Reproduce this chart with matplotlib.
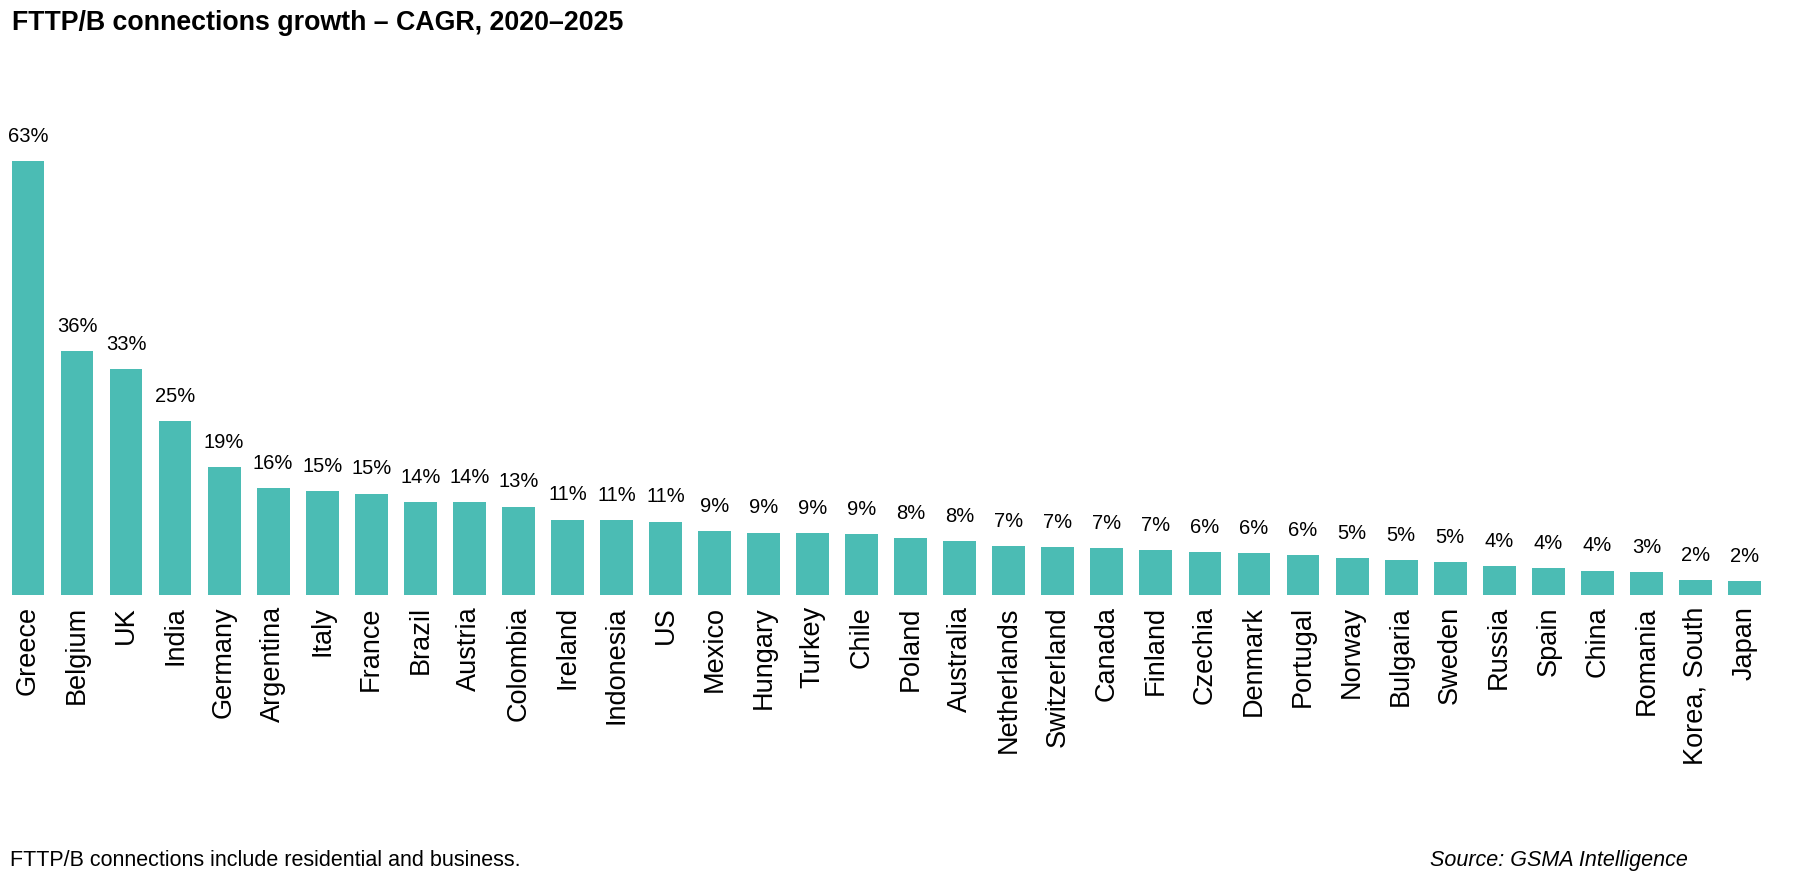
import numpy as np
import matplotlib.pyplot as plt

plt.rcParams['font.family'] = ['Liberation Sans', 'DejaVu Sans']

countries = ['Greece', 'Belgium', 'UK', 'India', 'Germany', 'Argentina', 'Italy',
             'France', 'Brazil', 'Austria', 'Colombia', 'Ireland', 'Indonesia', 'US',
             'Mexico', 'Hungary', 'Turkey', 'Chile', 'Poland', 'Australia',
             'Netherlands', 'Switzerland', 'Canada', 'Finland', 'Czechia', 'Denmark',
             'Portugal', 'Norway', 'Bulgaria', 'Sweden', 'Russia', 'Spain', 'China',
             'Romania', 'Korea, South', 'Japan']
cagr = [63.4, 35.6, 33.0, 25.4, 18.7, 15.6, 15.2, 14.8, 13.6, 13.6, 12.9, 11.0, 10.9,
        10.7, 9.3, 9.1, 9.0, 8.9, 8.3, 7.9, 7.1, 7.0, 6.8, 6.55, 6.3, 6.1, 5.8, 5.4,
        5.1, 4.8, 4.2, 3.9, 3.55, 3.3, 2.2, 2.0]

color = '#4bbcb4'

fig = plt.figure(figsize=(17.97, 8.74), dpi=100)
ax = fig.add_axes([0.0019, 0.3192, 0.9825, 0.5664])

x = np.arange(len(countries))
bars = ax.bar(x, cagr, width=0.67, color=color)

# value labels above bars
for xi, v in zip(x, cagr):
    ax.annotate(f'{v:.0f}%', (xi, v), xytext=(0, 11), textcoords='offset points',
                ha='center', va='bottom', fontsize=14.5)

ax.set_xlim(-0.5, len(countries) - 0.5)
ax.set_ylim(0, 72.3)
ax.set_xticks(x)
ax.set_xticklabels(countries, rotation=90, fontsize=19.5)
ax.tick_params(axis='x', length=0, pad=8)
ax.set_yticks([])
for s in ax.spines.values():
    s.set_visible(False)

fig.text(0.0064, 0.988, 'FTTP/B connections growth \u2013 CAGR, 2020\u20132025',
         fontsize=19.3, fontweight='bold', va='top', ha='left')
fig.text(0.0053, 0.003, 'FTTP/B connections include residential and business.',
         fontsize=15.5, ha='left', va='bottom')
fig.text(0.939, 0.003, 'Source: GSMA Intelligence', fontsize=15.5, style='italic',
         ha='right', va='bottom')

fig.savefig('out.png', dpi=100)
